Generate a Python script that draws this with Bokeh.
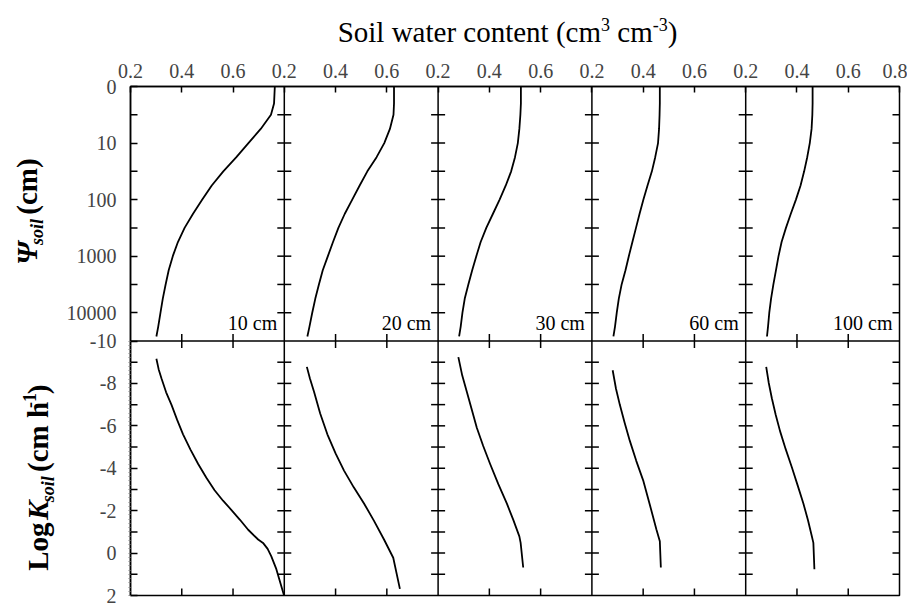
import math
from bokeh.plotting import figure
from bokeh.models import Range1d, FixedTicker, Span
from bokeh.layouts import column, row
from bokeh.embed import file_html
from bokeh.resources import INLINE
from bokeh.core.properties import value

# ---------------- data ----------------
depths = ["10 cm", "20 cm", "30 cm", "60 cm", "100 cm"]

# top row: log10 of soil water potential (cm) vs water content
log_psi = [0.0, 0.3, 0.5, 0.75, 1.0, 1.25, 1.5, 1.75, 2.0, 2.25, 2.5,
           2.75, 3.0, 3.25, 3.5, 3.75, 4.0, 4.25, 4.42]
theta_psi_10cm = [0.763, 0.760, 0.748, 0.708, 0.660, 0.613, 0.562, 0.517, 0.480, 0.444,
                  0.411, 0.385, 0.365, 0.349, 0.337, 0.326, 0.317, 0.308, 0.301]
theta_psi_20cm = [0.628, 0.628, 0.626, 0.612, 0.590, 0.560, 0.524, 0.494, 0.465, 0.436,
                  0.411, 0.390, 0.370, 0.350, 0.335, 0.321, 0.309, 0.298, 0.290]
theta_psi_30cm = [0.523, 0.523, 0.521, 0.517, 0.511, 0.500, 0.485, 0.464, 0.440, 0.414,
                  0.388, 0.366, 0.349, 0.333, 0.318, 0.304, 0.295, 0.288, 0.282]
theta_psi_60cm = [0.465, 0.465, 0.464, 0.462, 0.458, 0.447, 0.434, 0.417, 0.401, 0.386,
                  0.372, 0.358, 0.344, 0.331, 0.316, 0.305, 0.297, 0.290, 0.284]
theta_psi_100cm = [0.461, 0.461, 0.460, 0.457, 0.450, 0.440, 0.428, 0.414, 0.396, 0.376,
                   0.357, 0.340, 0.328, 0.318, 0.308, 0.299, 0.292, 0.287, 0.283]

# bottom row: log10 hydraulic conductivity (cm/h) vs water content
theta_k_10cm = [0.301, 0.310, 0.321, 0.339, 0.360, 0.382, 0.405, 0.434, 0.464, 0.496, 0.528,
                0.561, 0.594, 0.627, 0.659, 0.698, 0.717, 0.735, 0.749, 0.769, 0.799]
logk_10cm = [-9.16, -8.66, -8.23, -7.58, -6.99, -6.28, -5.60, -4.88, -4.20, -3.55, -2.96,
             -2.47, -2.03, -1.57, -1.10, -0.64, -0.48, -0.20, 0.14, 0.76, 2.0]
theta_k_20cm = [0.288, 0.300, 0.316, 0.340, 0.368, 0.400, 0.433, 0.471, 0.511, 0.550, 0.589,
                0.625, 0.651]
logk_20cm = [-8.78, -8.23, -7.61, -6.58, -5.60, -4.70, -3.89, -3.10, -2.34, -1.52, -0.64,
             0.22, 1.69]
theta_k_30cm = [0.279, 0.294, 0.312, 0.331, 0.351, 0.376, 0.403, 0.435, 0.468, 0.493, 0.517,
                0.522, 0.532]
logk_30cm = [-9.24, -8.38, -7.61, -6.78, -5.91, -5.05, -4.20, -3.25, -2.34, -1.58, -0.79,
             -0.48, 0.68]
theta_k_60cm = [0.281, 0.294, 0.309, 0.328, 0.348, 0.373, 0.400, 0.426, 0.452, 0.465, 0.469]
logk_60cm = [-8.62, -7.75, -6.99, -6.13, -5.29, -4.35, -3.43, -2.28, -1.10, -0.56, 0.68]
theta_k_100cm = [0.280, 0.290, 0.302, 0.317, 0.334, 0.356, 0.380, 0.403, 0.425, 0.443, 0.458,
                 0.464, 0.468]
logk_100cm = [-8.78, -8.02, -7.30, -6.52, -5.75, -4.90, -4.05, -3.18, -2.34, -1.55, -0.79,
              -0.48, 0.76]

# tick labels
theta_tick_labels = ["0.2", "0.4", "0.6"]
theta_last_label = "0.8"
psi_tick_values = [0, 1, 2, 3, 4]
psi_tick_labels = ["0", "10", "100", "1000", "10000"]
k_tick_values = [-10, -8, -6, -4, -2, 0, 2]
k_tick_labels = ["-10", "-8", "-6", "-4", "-2", "0", "2"]

psi_curves = [theta_psi_10cm, theta_psi_20cm, theta_psi_30cm, theta_psi_60cm, theta_psi_100cm]
k_curves = [(theta_k_10cm, logk_10cm), (theta_k_20cm, logk_20cm), (theta_k_30cm, logk_30cm),
            (theta_k_60cm, logk_60cm), (theta_k_100cm, logk_100cm)]

# ---------------- layout constants ----------------
NP = len(depths)
TH0, TH1 = 0.2, 0.8
SPAN = TH1 - TH0
UNITS = 3                       # layout units per panel (one per 0.2 of theta)
PSI_MAX = 4.5                   # bottom of the top row (log10 cm)
K_TOP, K_BOT = -10, 2           # bottom row range
K2P = PSI_MAX / (K_BOT - K_TOP)  # one K unit in layout (psi) units
SERIF = "Liberation Serif"
MID = 0.34                      # baseline -> em-box middle, fraction of font size

W_TOTAL = 907
TITLE_H = 50
LAB_W = 63
MAIN_H = 557

METRICS = {
    "r": {" ": 250, "(": 333, ")": 333, "-": 333, "S": 556, "o": 500, "i": 278, "l": 278,
          "w": 722, "a": 444, "t": 278, "e": 444, "r": 333, "c": 444, "n": 500, "m": 778,
          "h": 500},
    "b": {" ": 250, "(": 333, ")": 333, "-": 333, "L": 667, "o": 500, "g": 500, "c": 444,
          "m": 833, "h": 556},
    "bi": {"K": 667, "s": 389, "o": 500, "i": 278, "l": 278, "\u03a8": 740},
}


def tw(s, style, size):
    return sum(METRICS[style].get(ch, 500) for ch in s) * size / 1000.0


def k_to_layout(v):
    return PSI_MAX + (v - K_TOP) * K2P


def blank_fig(w, h):
    f = figure(width=w, height=h, x_range=Range1d(0, w), y_range=Range1d(h, 0),
               x_axis_location=None, y_axis_location=None, output_backend="svg",
               toolbar_location=None, min_border=0)
    f.outline_line_color = None
    f.grid.visible = False
    f.background_fill_color = "white"
    f.border_fill_color = "white"
    return f


# ---------------- main plot ----------------
p = figure(width=W_TOTAL - LAB_W, height=MAIN_H,
           x_range=Range1d(0, NP * UNITS), y_range=Range1d(2 * PSI_MAX, 0),
           x_axis_location="above", output_backend="svg", toolbar_location=None,
           min_border_left=129 - LAB_W, min_border_right=8, min_border_top=36,
           min_border_bottom=12)
p.grid.visible = False
p.outline_line_color = "black"
p.outline_line_width = 1.5
p.background_fill_color = "white"
p.border_fill_color = "white"
for i in range(NP):
    p.extra_x_ranges[f"p{i}"] = Range1d(TH0 - SPAN * i, TH0 - SPAN * i + SPAN * NP)
p.extra_y_ranges["k"] = Range1d(K_BOT, K_TOP - (K_BOT - K_TOP))

# top axis: water content ticks for every panel
layout_ticks = list(range(NP * UNITS + 1))
layout_over = {k: (theta_last_label if k == NP * UNITS else theta_tick_labels[k % UNITS])
               for k in layout_ticks}
xa = p.xaxis[0]
xa.ticker = FixedTicker(ticks=layout_ticks)
xa.major_label_overrides = layout_over
xa.major_tick_in = 6
xa.major_tick_out = 0
xa.minor_tick_line_color = None
xa.axis_line_width = 1.5
xa.major_tick_line_width = 1.5
xa.major_label_text_font = SERIF
xa.major_label_text_font_size = "20px"
xa.major_label_standoff = 9

# left axis: psi labels (top row) and log K labels (bottom row)
left_ticks = list(psi_tick_values) + [k_to_layout(v) for v in k_tick_values]
left_over = {}
for v, lab_ in zip(psi_tick_values, psi_tick_labels):
    left_over[v] = lab_
for v, lab_ in zip(k_tick_values, k_tick_labels):
    left_over[k_to_layout(v)] = lab_
ya = p.yaxis[0]
ya.ticker = FixedTicker(ticks=left_ticks,
                        minor_ticks=[PSI_MAX + 0.2 * j * K2P for j in range(61)])
ya.major_label_overrides = left_over
ya.major_label_text_font = SERIF
ya.major_label_text_font_size = "20px"
ya.major_label_standoff = 12
ya.major_tick_in = 7
ya.major_tick_out = 0
ya.minor_tick_in = 0
ya.minor_tick_out = 2
ya.minor_tick_line_color = "#8a8a8a"
ya.axis_line_width = 1.5
ya.major_tick_line_width = 1.5

# panel dividers and the line between the two rows
dividers = [UNITS * i for i in range(1, NP)]
inner_ticks = [k for k in layout_ticks if k % UNITS != 0]
for d in dividers:
    p.add_layout(Span(location=d, dimension="height", line_color="black", line_width=1.5))
p.add_layout(Span(location=PSI_MAX, dimension="width", line_color="black", line_width=1.5))

psi_minor = [0.5 * j for j in range(1, 9)]               # every half decade
k_minor = list(range(K_TOP + 1, K_BOT))                   # every unit
psi_unlabeled = [v for v in psi_minor if v not in psi_tick_values]
k_unlabeled = [v for v in k_minor if v not in k_tick_values]

tick_style = dict(marker="dash", size=14, line_color="black", line_width=1.5)
# crossing ticks on the dividers
p.scatter(x=[d for d in dividers for _ in psi_minor], y=[v for _ in dividers for v in psi_minor],
          **tick_style)
p.scatter(x=[d for d in dividers for _ in k_minor], y=[v for _ in dividers for v in k_minor],
          y_range_name="k", **tick_style)
# inward ticks on the right frame edge (half of each dash is clipped by the frame)
p.scatter(x=[NP * UNITS] * len(psi_minor), y=psi_minor, **tick_style)
p.scatter(x=[NP * UNITS] * len(k_minor), y=k_minor, y_range_name="k", **tick_style)
# extra inward ticks on the left edge where there is no label
p.scatter(x=[0] * len(psi_unlabeled), y=psi_unlabeled, **tick_style)
p.scatter(x=[0] * len(k_unlabeled), y=k_unlabeled, y_range_name="k", **tick_style)
# crossing ticks on the middle line and inward ticks on the bottom edge
p.scatter(x=inner_ticks, y=[PSI_MAX] * len(inner_ticks), angle=math.pi / 2, **tick_style)
p.scatter(x=inner_ticks, y=[K_BOT] * len(inner_ticks), y_range_name="k",
          angle=math.pi / 2, **tick_style)

# curves
for i, th in enumerate(psi_curves):
    p.line(x=th, y=log_psi, x_range_name=f"p{i}", line_color="black", line_width=1.8,
           line_join="round")
    p.text(x=[TH1], y=[4.19], text=[depths[i]], x_range_name=f"p{i}", x_offset=-7,
           text_align="right", text_baseline="middle", text_font=value(SERIF),
           text_font_size="20px", text_color="black")
for i, (th, lk) in enumerate(k_curves):
    p.line(x=th, y=lk, x_range_name=f"p{i}", y_range_name="k", line_color="black",
           line_width=1.8, line_join="round")


def draw_parts(fig, parts, x0, y0, rotate):
    """Draw text pieces one after another along a baseline (x0, y0).
    Leading spaces become an advance; each piece is anchored at its em-box middle."""
    pos = 0.0
    for s, st, sz, shift in parts:
        body = s.lstrip(" ")
        pos += tw(s[:len(s) - len(body)], st, sz)
        style = {"r": "normal", "b": "bold", "bi": "bold italic"}[st]
        if rotate:
            x, y, ang = x0 + shift - MID * sz, y0 - pos, math.pi / 2
        else:
            x, y, ang = x0 + pos, y0 - shift - MID * sz, 0.0
        fig.text(x=[x], y=[y], text=[body.rstrip(" ")], angle=ang, text_font=value(SERIF),
                 text_font_size=f"{sz}px", text_font_style=style, text_align="left",
                 text_baseline="middle", text_color="black")
        pos += tw(body, st, sz)


# ---------------- title ----------------
t = blank_fig(W_TOTAL, TITLE_H)
title_parts = [("Soil water content (cm", "r", 29, 0), ("3", "r", 18, 11),
               (" cm", "r", 29, 0), ("-3", "r", 18, 11), (")", "r", 29, 0)]
total = sum(tw(s, st, sz) for s, st, sz, _ in title_parts)
draw_parts(t, title_parts, 507 - total / 2, 41, False)

# ---------------- y-axis titles ----------------
lab = blank_fig(LAB_W, MAIN_H)
draw_parts(lab, [("\u03a8", "bi", 29, 0), ("soil", "bi", 18, 7), (" (cm)", "b", 29, 0)],
           36, 245 - TITLE_H, True)
draw_parts(lab, [("Log ", "b", 29, 0), ("K", "bi", 29, 0), ("soil", "bi", 18, 7),
                 (" (cm h", "b", 29, 0), ("-1", "b", 18, -12), (")", "b", 29, 0)],
           47, 580 - TITLE_H, True)

layout = column(t, row(lab, p, spacing=0), spacing=0)
open("out.html", "w").write(file_html(layout, INLINE))
